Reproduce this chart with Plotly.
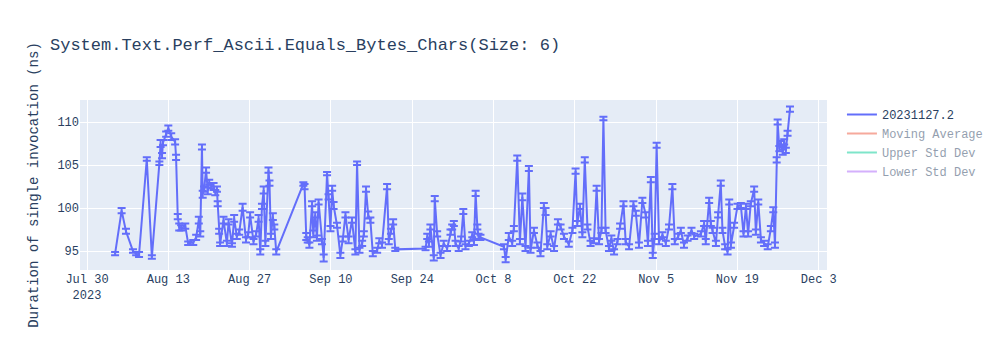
import pandas as pd
import plotly.graph_objects as go

TITLE = "System.Text.Perf_Ascii.Equals_Bytes_Chars(Size: 6)"
BUILD = "20231127.2"
FONT = "Courier New, Liberation Mono, monospace"

run_times = [
    "2023-08-03 20:00", "2023-08-04 23:00", "2023-08-05 17:00", "2023-08-06 22:00", "2023-08-07 11:00",
    "2023-08-07 23:00", "2023-08-09 07:00", "2023-08-10 04:00", "2023-08-11 11:00", "2023-08-11 16:00",
    "2023-08-11 22:00", "2023-08-12 02:00", "2023-08-12 15:00", "2023-08-13 00:00", "2023-08-13 12:00",
    "2023-08-14 04:00", "2023-08-14 08:00", "2023-08-14 15:00", "2023-08-14 21:00", "2023-08-15 05:00",
    "2023-08-15 22:00", "2023-08-16 10:00", "2023-08-17 07:00", "2023-08-17 19:00", "2023-08-18 06:00",
    "2023-08-18 12:00", "2023-08-18 19:00", "2023-08-18 22:00", "2023-08-19 04:00", "2023-08-19 12:00",
    "2023-08-19 19:00", "2023-08-20 01:00", "2023-08-20 09:00", "2023-08-20 19:00", "2023-08-21 02:00",
    "2023-08-21 09:00", "2023-08-21 12:00", "2023-08-21 18:00", "2023-08-21 22:00", "2023-08-22 12:00",
    "2023-08-23 02:00", "2023-08-23 09:00", "2023-08-23 23:00", "2023-08-24 08:00", "2023-08-24 19:00",
    "2023-08-25 05:00", "2023-08-25 19:00", "2023-08-26 09:00", "2023-08-26 18:00", "2023-08-27 02:00",
    "2023-08-27 16:00", "2023-08-28 03:00", "2023-08-28 13:00", "2023-08-28 20:00", "2023-08-29 03:00",
    "2023-08-29 10:00", "2023-08-29 17:00", "2023-08-30 06:00", "2023-08-30 10:00", "2023-08-30 16:00",
    "2023-08-31 00:00", "2023-08-31 06:00", "2023-08-31 14:00", "2023-09-05 06:00", "2023-09-05 11:00",
    "2023-09-05 18:00", "2023-09-06 00:00", "2023-09-06 07:00", "2023-09-06 18:00", "2023-09-06 23:00",
    "2023-09-07 07:00", "2023-09-07 14:00", "2023-09-07 21:00", "2023-09-08 11:00", "2023-09-08 18:00",
    "2023-09-09 08:00", "2023-09-09 14:00", "2023-09-09 22:00", "2023-09-10 05:00", "2023-09-10 11:00",
    "2023-09-11 01:00", "2023-09-11 15:00", "2023-09-12 01:00", "2023-09-12 12:00", "2023-09-13 01:00",
    "2023-09-13 15:00", "2023-09-14 05:00", "2023-09-14 12:00", "2023-09-14 22:00", "2023-09-15 09:00",
    "2023-09-15 16:00", "2023-09-16 01:00", "2023-09-16 10:00", "2023-09-16 19:00", "2023-09-17 05:00",
    "2023-09-17 23:00", "2023-09-18 08:00", "2023-09-18 19:00", "2023-09-19 16:00", "2023-09-19 23:00",
    "2023-09-20 08:00", "2023-09-20 17:00", "2023-09-21 02:00", "2023-09-26 07:00", "2023-09-26 14:00",
    "2023-09-26 21:00", "2023-09-27 03:00", "2023-09-27 17:00", "2023-09-27 21:00", "2023-09-28 07:00",
    "2023-09-28 21:00", "2023-09-29 10:00", "2023-09-30 00:00", "2023-09-30 14:00", "2023-09-30 21:00",
    "2023-10-01 04:00", "2023-10-01 11:00", "2023-10-02 00:00", "2023-10-02 10:00", "2023-10-02 19:00",
    "2023-10-03 04:00", "2023-10-03 18:00", "2023-10-04 08:00", "2023-10-04 15:00", "2023-10-04 22:00",
    "2023-10-05 05:00", "2023-10-05 10:00", "2023-10-05 18:00", "2023-10-09 19:00", "2023-10-10 02:00",
    "2023-10-10 15:00", "2023-10-11 05:00", "2023-10-11 12:00", "2023-10-12 02:00", "2023-10-12 13:00",
    "2023-10-12 23:00", "2023-10-13 12:00", "2023-10-14 02:00", "2023-10-14 09:00", "2023-10-14 23:00",
    "2023-10-15 13:00", "2023-10-16 02:00", "2023-10-16 16:00", "2023-10-16 23:00", "2023-10-17 06:00",
    "2023-10-17 20:00", "2023-10-18 10:00", "2023-10-19 02:00", "2023-10-19 13:00", "2023-10-20 03:00",
    "2023-10-20 23:00", "2023-10-21 14:00", "2023-10-22 03:00", "2023-10-22 10:00", "2023-10-22 21:00",
    "2023-10-23 07:00", "2023-10-23 17:00", "2023-10-24 04:00", "2023-10-24 17:00", "2023-10-25 07:00",
    "2023-10-25 18:00", "2023-10-26 04:00", "2023-10-26 14:00", "2023-10-26 22:00", "2023-10-27 07:00",
    "2023-10-27 21:00", "2023-10-28 07:00", "2023-10-28 18:00", "2023-10-29 08:00", "2023-10-29 19:00",
    "2023-10-30 09:00", "2023-10-30 18:00", "2023-10-31 08:00", "2023-11-01 02:00", "2023-11-01 12:00",
    "2023-11-02 01:00", "2023-11-02 15:00", "2023-11-03 05:00", "2023-11-03 14:00", "2023-11-04 02:00",
    "2023-11-04 10:00", "2023-11-04 18:00", "2023-11-05 02:00", "2023-11-05 12:00", "2023-11-06 02:00",
    "2023-11-06 16:00", "2023-11-07 05:00", "2023-11-07 19:00", "2023-11-08 05:00", "2023-11-08 19:00",
    "2023-11-09 06:00", "2023-11-09 19:00", "2023-11-10 10:00", "2023-11-11 02:00", "2023-11-11 13:00",
    "2023-11-12 17:00", "2023-11-13 06:00", "2023-11-13 13:00", "2023-11-14 03:00", "2023-11-14 10:00",
    "2023-11-14 17:00", "2023-11-15 07:00", "2023-11-15 16:00", "2023-11-16 03:00", "2023-11-16 10:00",
    "2023-11-16 21:00", "2023-11-17 07:00", "2023-11-17 14:00", "2023-11-17 21:00", "2023-11-18 10:00",
    "2023-11-19 00:00", "2023-11-19 14:00", "2023-11-20 01:00", "2023-11-20 11:00", "2023-11-20 20:00",
    "2023-11-21 07:00", "2023-11-21 21:00", "2023-11-22 04:00", "2023-11-22 14:00", "2023-11-23 01:00",
    "2023-11-23 14:00", "2023-11-24 05:00", "2023-11-24 18:00", "2023-11-25 04:00", "2023-11-25 11:00",
    "2023-11-25 18:00", "2023-11-25 22:00", "2023-11-26 05:00", "2023-11-26 12:00", "2023-11-26 19:00",
    "2023-11-27 01:00", "2023-11-27 08:00", "2023-11-27 15:00", "2023-11-28 01:00",
]

duration_ns = [
    94.7, 99.7, 97.3, 95.0, 94.7, 94.6, 105.7, 94.3, 105.2, 107.5,
    106.1, 107.6, 108.6, 109.3, 108.3, 107.7, 105.9, 99.0, 97.8, 97.7,
    97.9, 95.9, 96.0, 96.6, 98.6, 97.0, 107.1, 101.6, 102.2, 104.4,
    102.0, 103.0, 102.6, 102.5, 101.8, 102.2, 100.5, 97.3, 95.8, 98.6,
    95.9, 98.4, 95.7, 98.8, 96.7, 97.2, 100.1, 96.3, 96.9, 99.2,
    96.1, 97.0, 98.8, 94.9, 100.2, 102.1, 95.9, 104.4, 102.9, 96.7,
    99.0, 97.8, 94.9, 102.8, 102.5, 96.7, 96.3, 95.7, 100.5, 97.0,
    99.2, 96.5, 100.7, 96.1, 94.2, 104.0, 101.3, 97.6, 102.3, 100.3,
    98.0, 94.5, 96.4, 99.2, 96.3, 98.6, 94.9, 105.2, 95.1, 95.9,
    97.0, 102.2, 99.2, 98.6, 94.7, 95.1, 96.2, 95.7, 102.5, 96.1,
    97.3, 98.4, 95.2, 95.3, 96.7, 95.8, 97.8, 94.2, 101.1, 97.0,
    94.5, 95.9, 95.3, 97.2, 97.8, 98.2, 95.9, 95.3, 96.4, 99.6,
    95.5, 95.9, 96.9, 96.0, 101.7, 97.8, 96.7, 96.6, 95.5, 94.0,
    96.7, 95.9, 97.6, 105.8, 96.1, 101.3, 95.3, 104.6, 95.1, 97.4,
    95.7, 94.7, 100.3, 99.6, 95.5, 97.0, 95.3, 98.4, 97.8, 96.7,
    95.8, 97.4, 104.3, 98.2, 100.2, 96.9, 105.6, 97.8, 95.9, 96.2,
    102.3, 96.1, 97.4, 110.4, 97.4, 95.3, 96.5, 94.9, 96.1, 97.9,
    100.5, 96.1, 95.5, 100.5, 99.4, 95.7, 100.9, 99.2, 95.9, 103.3,
    94.5, 96.7, 107.3, 96.1, 96.9, 95.9, 97.8, 102.5, 96.1, 96.7,
    97.4, 95.7, 96.5, 97.4, 96.7, 97.0, 98.2, 96.1, 100.9, 98.2,
    97.4, 95.9, 99.2, 102.9, 97.4, 95.5, 94.9, 100.7, 95.7, 98.0,
    100.2, 100.3, 97.0, 100.2, 97.0, 100.5, 102.2, 97.2, 100.7, 96.3,
    95.9, 95.5, 97.6, 99.8, 95.7, 105.6, 110.0, 106.9, 107.5, 106.5,
    107.7, 106.7, 108.7, 111.5,
]

std_dev_ns = [
    0.2, 0.3, 0.3, 0.2, 0.2, 0.3, 0.2, 0.2, 0.2, 0.4,
    0.3, 0.3, 0.3, 0.3, 0.4, 0.3, 0.3, 0.3, 0.4, 0.3,
    0.3, 0.2, 0.3, 0.3, 0.4, 0.3, 0.3, 0.4, 0.3, 0.3,
    0.4, 0.3, 0.3, 0.4, 0.3, 0.3, 0.3, 0.3, 0.2, 0.4,
    0.3, 0.3, 0.2, 0.4, 0.3, 0.3, 0.4, 0.3, 0.3, 0.3,
    0.3, 0.3, 0.4, 0.3, 0.3, 0.4, 0.3, 0.3, 0.3, 0.3,
    0.4, 0.3, 0.3, 0.2, 0.3, 0.4, 0.3, 0.3, 0.3, 0.4,
    0.3, 0.3, 0.3, 0.3, 0.4, 0.2, 0.3, 0.3, 0.3, 0.4,
    0.3, 0.3, 0.3, 0.3, 0.4, 0.3, 0.3, 0.2, 0.3, 0.3,
    0.3, 0.3, 0.4, 0.3, 0.3, 0.3, 0.3, 0.3, 0.3, 0.3,
    0.3, 0.3, 0.2, 0.2, 0.3, 0.3, 0.3, 0.3, 0.3, 0.3,
    0.3, 0.3, 0.3, 0.3, 0.3, 0.3, 0.3, 0.3, 0.3, 0.3,
    0.3, 0.3, 0.3, 0.3, 0.3, 0.3, 0.3, 0.3, 0.3, 0.3,
    0.4, 0.3, 0.3, 0.3, 0.3, 0.4, 0.3, 0.3, 0.3, 0.3,
    0.3, 0.3, 0.3, 0.4, 0.3, 0.3, 0.3, 0.3, 0.3, 0.3,
    0.3, 0.3, 0.3, 0.3, 0.3, 0.3, 0.3, 0.3, 0.3, 0.3,
    0.3, 0.3, 0.3, 0.2, 0.3, 0.3, 0.3, 0.3, 0.3, 0.3,
    0.3, 0.3, 0.3, 0.3, 0.3, 0.3, 0.3, 0.3, 0.3, 0.3,
    0.3, 0.3, 0.3, 0.3, 0.3, 0.3, 0.3, 0.3, 0.3, 0.3,
    0.3, 0.3, 0.3, 0.3, 0.3, 0.3, 0.3, 0.3, 0.3, 0.3,
    0.3, 0.3, 0.3, 0.3, 0.3, 0.3, 0.3, 0.3, 0.3, 0.3,
    0.3, 0.3, 0.3, 0.3, 0.3, 0.3, 0.3, 0.3, 0.3, 0.3,
    0.3, 0.3, 0.3, 0.3, 0.3, 0.3, 0.3, 0.3, 0.3, 0.3,
    0.3, 0.3, 0.3, 0.3,
]

series = pd.Series(duration_ns, index=pd.to_datetime(run_times))
moving_avg = series.rolling(10, min_periods=1).mean()
moving_std = series.rolling(10, min_periods=1).std().fillna(0)

fig = go.Figure()
fig.add_trace(go.Scatter(
    x=run_times, y=duration_ns, mode="lines", name=BUILD,
    line=dict(color="#636efa", width=2),
    error_y=dict(type="data", array=std_dev_ns, visible=True,
                 color="#636efa", thickness=2, width=4),
))
fig.add_trace(go.Scatter(x=run_times, y=list(moving_avg), mode="lines",
                         name="Moving Average", visible="legendonly",
                         line=dict(color="#EF553B")))
fig.add_trace(go.Scatter(x=run_times, y=list(moving_avg + moving_std), mode="lines",
                         name="Upper Std Dev", visible="legendonly",
                         line=dict(color="#00cc96")))
fig.add_trace(go.Scatter(x=run_times, y=list(moving_avg - moving_std), mode="lines",
                         name="Lower Std Dev", visible="legendonly",
                         line=dict(color="#ab63fa")))

fig.update_layout(
    width=1000, height=350,
    template="plotly",
    font=dict(family=FONT),
    title=dict(text=TITLE, font=dict(size=17)),
    yaxis=dict(title=dict(text="Duration of single invocation (ns)"),
               range=[92.8, 112.56]),
    xaxis=dict(type="date", range=["2023-07-28 19:00", "2023-12-04 10:00"]),
)

fig.write_html("out.html")
